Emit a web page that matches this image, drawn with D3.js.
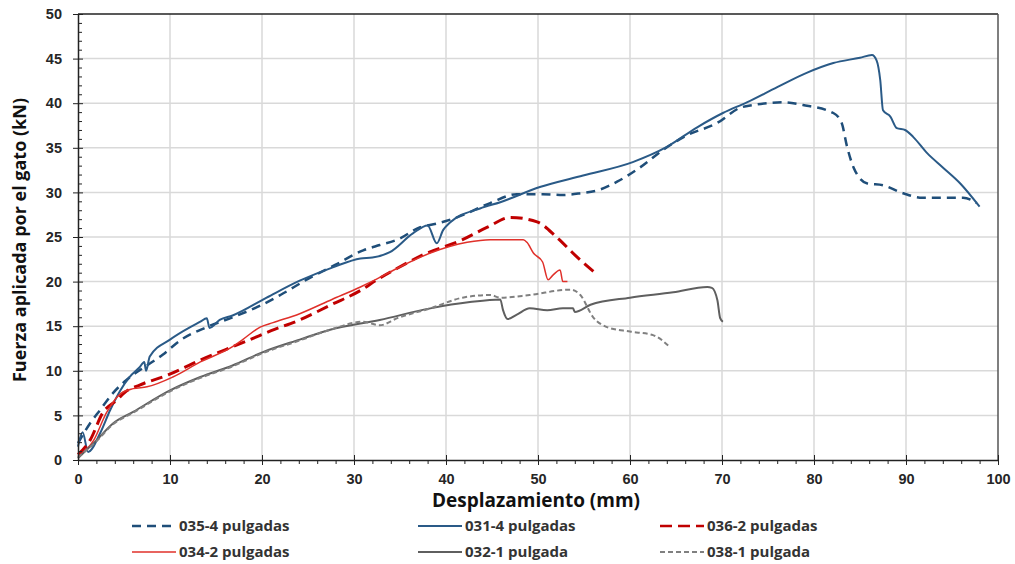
<!DOCTYPE html>
<html>
<head>
<meta charset="utf-8">
<script src="https://cdn.jsdelivr.net/npm/d3@7"></script>
<style>
  body { margin: 0; background: #fff; }
  svg { font-family: "Open Sans", Lato, sans-serif; }
</style>
</head>
<body>
<div id="chart"></div>
<script>
// displacement (mm), force (kN)
const s035 = [[0,1.9],[1.3,4.1],[2.4,5.6],[3.8,7.5],[5.3,9],[7.5,10.6],[9.2,11.8],[11.1,13.4],[14,14.9],[16.8,16],[19.8,17.3],[22,18.5],[25,20.3],[28,21.9],[31,23.5],[32.8,24.1],[34.7,24.7],[37.2,26.1],[39,26.5],[41.2,27.2],[44.8,28.8],[47.7,29.8],[50.5,29.8],[52.7,29.7],[54.6,29.9],[56.7,30.3],[58.6,31.2],[61.1,32.8],[63.5,34.7],[66,36.3],[69.5,37.8],[72,39.5],[73.4,39.8],[76.6,40.1],[78.8,39.8],[82.1,38.9],[83,37.8],[83.6,35.1],[84.3,32.8],[85.8,31],[87.5,30.8],[89.7,29.9],[91.8,29.4],[96.2,29.4],[97.7,28.8]]
const s031 = [[0,1.5],[0.5,3.1],[1.1,0.9],[2.4,3],[3.5,5.6],[4.6,7.8],[5.6,9.3],[6.7,10.4],[7.2,11],[7.4,10],[7.8,11.6],[10,13.5],[12.2,14.9],[13.3,15.5],[14,15.9],[14.3,14.8],[15.4,15.7],[16.8,16.2],[20.5,18.2],[24.1,20.1],[27.7,21.6],[30.7,22.6],[32,22.7],[33.9,23.3],[36.4,25.4],[38,26.3],[39,24.3],[39.7,25.8],[40.4,26.6],[43.7,28.2],[45.9,28.9],[50.2,30.6],[54.9,31.9],[60.3,33.4],[64,35.1],[67.3,37.3],[70.1,38.9],[72.7,40.1],[76,41.8],[79.2,43.4],[82.1,44.5],[85,45.1],[86.3,45.4],[86.8,44.8],[87.2,42.6],[87.5,39.2],[88.3,38.5],[89,37.2],[89.9,37],[90.8,36.2],[92.3,34.4],[94,32.8],[95.9,31],[98,28.4]]
const s036 = [[0,0.6],[1.3,2.2],[2.7,5.3],[4.2,6.7],[5.1,7.6],[6.7,8.4],[9.7,9.5],[13.3,11.2],[16.8,12.7],[18.7,13.5],[21,14.5],[24.1,15.7],[27.5,17.4],[30.7,19],[32.5,20.2],[34.7,21.5],[37.5,23],[41.8,24.7],[44.5,26.1],[47,27.2],[49.9,26.7],[52.1,24.9],[54.2,22.8],[56.2,21]]
const s034 = [[0,0.4],[1.7,2.2],[3.1,5.3],[4.7,7.5],[6,8],[7.5,8.2],[10.3,9.3],[13.3,11],[16.8,12.7],[17.9,13.5],[19.8,14.9],[21.2,15.4],[24.1,16.4],[27.6,18],[30.7,19.4],[32.5,20.3],[34.7,21.5],[38.3,23.2],[42.3,24.4],[44.8,24.7],[48.4,24.7],[48.8,24.4],[49.5,23.2],[50.5,22.2],[51.1,20.2],[51.6,20.7],[52.4,21.3],[52.7,20],[53.2,20]]
const s032 = [[0,0.2],[2,2.2],[3.8,4.1],[6,5.4],[10,7.8],[13.3,9.3],[16.8,10.6],[20.1,12.1],[24.1,13.5],[27.4,14.6],[32.8,15.7],[38.3,17],[42.6,17.7],[45.9,18],[46.2,16.8],[46.7,15.8],[47.7,16.3],[49.1,17],[51,16.8],[52.7,17],[53.8,17],[54,16.6],[55.7,17.4],[60,18.2],[64.7,18.8],[68.4,19.4],[68.9,19.3],[69.5,17.9],[69.8,15.9],[70.1,15.5]]
const s038 = [[0,0.3],[2,2.1],[3.8,4],[6,5.3],[10,7.7],[13.3,9.2],[16.8,10.5],[20.1,12],[24.1,13.4],[27.4,14.6],[31,15.5],[32.8,15.1],[34.7,15.9],[38.3,17],[41.8,18.2],[44.8,18.5],[45.9,18.2],[49.1,18.5],[53.5,19.1],[54.6,18.5],[56,16],[57.5,14.9],[60,14.4],[62.5,14],[64.3,12.7]]

const seriesNames = ['035-4 pulgadas', '031-4 pulgadas', '036-2 pulgadas', '034-2 pulgadas', '032-1 pulgada', '038-1 pulgada']
const seriesData = [s035, s031, s036, s034, s032, s038]
const xTicks = [0, 10, 20, 30, 40, 50, 60, 70, 80, 90, 100]
const yTicks = [0, 5, 10, 15, 20, 25, 30, 35, 40, 45, 50]

const styles = [
  {color: '#1f4e79', width: 2.5, dash: '9,6'},
  {color: '#2a5a87', width: 2, dash: null},
  {color: '#c00000', width: 3, dash: '12,6'},
  {color: '#e0302a', width: 1.5, dash: null},
  {color: '#5f5f5f', width: 2, dash: null},
  {color: '#808080', width: 2, dash: '5,3'}
]

const W = 1015, H = 564
const x = d3.scaleLinear().domain([0, 100]).range([78, 998])
const y = d3.scaleLinear().domain([0, 50]).range([460, 14])

const svg = d3.select('#chart').append('svg')
  .attr('width', W).attr('height', H)

// grid
svg.append('g').selectAll('line.v')
  .data(xTicks.slice(1, -1)).enter().append('line')
  .attr('x1', d => x(d)).attr('x2', d => x(d))
  .attr('y1', y(0)).attr('y2', y(50))
  .attr('stroke', '#d9d9d9').attr('stroke-width', 1.5)
svg.append('g').selectAll('line.h')
  .data(yTicks.slice(1, -1)).enter().append('line')
  .attr('x1', x(0)).attr('x2', x(100))
  .attr('y1', d => y(d)).attr('y2', d => y(d))
  .attr('stroke', '#d9d9d9').attr('stroke-width', 1.5)

// frame top / right
svg.append('line').attr('x1', x(0)).attr('x2', x(100)).attr('y1', y(50)).attr('y2', y(50))
  .attr('stroke', '#222').attr('stroke-width', 1.5)
svg.append('line').attr('x1', x(100)).attr('x2', x(100)).attr('y1', y(50)).attr('y2', y(0))
  .attr('stroke', '#555').attr('stroke-width', 1.5)

// series
const line = d3.line().x(d => x(d[0])).y(d => y(d[1])).curve(d3.curveMonotoneX)
seriesData.forEach((data, i) => {
  const st = styles[i]
  svg.append('path')
    .datum(data)
    .attr('d', line)
    .attr('fill', 'none')
    .attr('stroke', st.color)
    .attr('stroke-width', st.width)
    .attr('stroke-linejoin', 'round')
    .attr('stroke-dasharray', st.dash)
})

// minor ticks
const yMinor = d3.range(0, 51).filter(d => d % 5 != 0)
svg.append('g')
  .attr('transform', 'translate(' + x(0) + ',0)')
  .call(d3.axisRight(y).tickValues(yMinor).tickSize(4).tickFormat(''))
  .call(g => g.select('.domain').remove())
  .selectAll('line').attr('stroke', '#222')
const xMinor = d3.range(0, 101, 2).filter(d => d % 10 != 0)
svg.append('g')
  .attr('transform', 'translate(0,' + y(0) + ')')
  .call(d3.axisBottom(x).tickValues(xMinor).tickSize(4).tickFormat(''))
  .call(g => g.select('.domain').remove())
  .selectAll('line').attr('stroke', '#222')

// y axis
const yAxis = svg.append('g')
  .attr('transform', 'translate(' + x(0) + ',0)')
  .call(d3.axisLeft(y).tickValues(yTicks).tickSize(5).tickSizeOuter(0).tickPadding(11))
yAxis.select('.domain').attr('stroke', '#222').attr('stroke-width', 1.5)
yAxis.selectAll('.tick line').attr('x2', -5).attr('x1', 5).attr('stroke', '#222')
yAxis.selectAll('text').attr('font-size', 14.5).attr('font-weight', 'bold').attr('fill', '#262626')

// x axis
const xAxis = svg.append('g')
  .attr('transform', 'translate(0,' + y(0) + ')')
  .call(d3.axisBottom(x).tickValues(xTicks).tickSize(5).tickSizeOuter(0).tickPadding(9))
xAxis.select('.domain').attr('stroke', '#222').attr('stroke-width', 1.5)
xAxis.selectAll('.tick line').attr('y1', -5).attr('y2', 5).attr('stroke', '#222')
xAxis.selectAll('text').attr('font-size', 14.5).attr('font-weight', 'bold').attr('fill', '#262626')

// titles
svg.append('text')
  .attr('x', 536).attr('y', 507)
  .attr('text-anchor', 'middle')
  .attr('font-size', 19).attr('font-weight', 'bold').attr('fill', '#111')
  .text('Desplazamiento (mm)')
svg.append('text')
  .attr('transform', 'translate(26,240) rotate(-90)')
  .attr('text-anchor', 'middle')
  .attr('font-size', 18).attr('font-weight', 'bold').attr('fill', '#111')
  .text('Fuerza aplicada por el gato (kN)')

// legend
const legendPos = [[132, 526], [418, 526], [660, 526], [132, 552], [418, 552], [660, 552]]
seriesNames.forEach((name, i) => {
  const st = styles[i]
  const [lx, ly] = legendPos[i]
  svg.append('line')
    .attr('x1', lx).attr('x2', lx + 44).attr('y1', ly).attr('y2', ly)
    .attr('stroke', st.color)
    .attr('stroke-width', Math.min(st.width, 2.5))
    .attr('stroke-dasharray', st.dash)
  svg.append('text')
    .attr('x', lx + 47).attr('y', ly + 5)
    .attr('font-size', 15).attr('font-weight', 'bold').attr('fill', '#333')
    .text(name)
})
</script>
</body>
</html>
